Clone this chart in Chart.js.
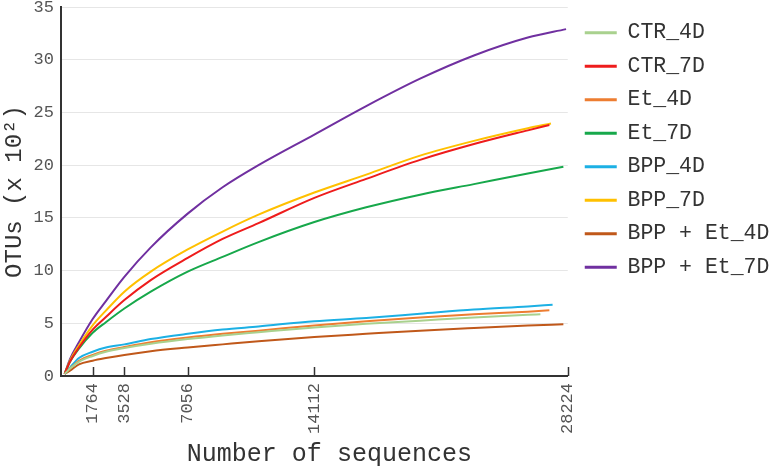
<!DOCTYPE html>
<html>
<head>
<meta charset="utf-8">
<script src="https://cdn.jsdelivr.net/npm/chart.js"></script>
<style>
  body { margin: 0; background: #fff; }
  #wrap { width: 777px; height: 469px; position: relative; }
</style>
</head>
<body>
<div id="wrap"><canvas id="chart-area"></canvas></div>
<script>
// sampling depths (number of sequences) shared by every curve
var seqs = [200, 500, 1000, 1764, 2500, 3528, 5000, 7056, 9000, 11000, 14112, 17000, 20000, 23000, 26000];
var xTicks = [1764, 3528, 7056, 14112, 28224];

var names = ['CTR_4D', 'CTR_7D', 'Et_4D', 'Et_7D', 'BPP_4D', 'BPP_7D', 'BPP + Et_4D', 'BPP + Et_7D'];
var colors = ['#a9d18e', '#ee1c1c', '#ed7d31', '#17a84b', '#1cb0e4', '#ffc000', '#c0581a', '#7030a0'];

// OTUs (x 10^2) at each depth, last value sits at the curve's own end depth
var ctr4d   = [0.2, 0.7, 1.35, 1.9, 2.3, 2.65, 3.05, 3.5, 3.85, 4.15, 4.6, 4.95, 5.25, 5.55, 5.8, 5.85];
var ctr7d   = [0.2, 1.35, 2.7, 4.4, 5.6, 7.2, 9.1, 11.2, 13.0, 14.5, 16.9, 18.7, 20.5, 22.0, 23.3, 23.8];
var et4d    = [0.2, 0.7, 1.45, 2.0, 2.4, 2.75, 3.2, 3.65, 4.0, 4.3, 4.8, 5.2, 5.55, 5.85, 6.1, 6.23];
var et7d    = [0.2, 1.35, 2.6, 4.1, 5.1, 6.4, 8.0, 9.9, 11.3, 12.7, 14.6, 16.0, 17.2, 18.2, 19.2, 19.85];
var bpp4d   = [0.2, 0.8, 1.7, 2.3, 2.7, 3.0, 3.5, 4.0, 4.4, 4.7, 5.2, 5.5, 5.9, 6.3, 6.6, 6.76];
var bpp7d   = [0.2, 1.45, 2.9, 4.8, 6.2, 8.0, 9.9, 12.0, 13.7, 15.3, 17.4, 19.1, 20.9, 22.3, 23.5, 23.95];
var bppEt4d = [0.2, 0.5, 1.1, 1.45, 1.7, 2.0, 2.35, 2.7, 3.0, 3.3, 3.7, 4.0, 4.3, 4.55, 4.78, 4.9];
var bppEt7d = [0.2, 1.6, 3.2, 5.4, 7.1, 9.4, 12.2, 15.4, 17.9, 20.0, 22.9, 25.6, 28.2, 30.4, 32.1, 32.9];
var endSeqs = [26700, 27200, 27200, 27980, 27380, 27290, 27980, 28130];

var allValues = [ctr4d, ctr7d, et4d, et7d, bpp4d, bpp7d, bppEt4d, bppEt7d];

var MONO = '"Liberation Mono", "Courier New", monospace';

function toPoints(vals, endSeq) {
	var pts = seqs.map(function (s, i) { return { x: s, y: vals[i] }; });
	pts.push({ x: endSeq, y: vals[vals.length - 1] });
	return pts;
}

var datasets = names.map(function (name, i) {
	return {
		label: name,
		data: toPoints(allValues[i], endSeqs[i]),
		borderColor: colors[i],
		backgroundColor: colors[i],
		borderWidth: 2,
		pointRadius: 0,
		fill: false,
		cubicInterpolationMode: 'monotone'
	};
});

// small tick marks pointing up into the plot, only at the labelled depths
var innerTicks = {
	id: 'innerTicks',
	afterDatasetsDraw: function (chart) {
		var ctx = chart.ctx, xs = chart.scales.x, bottom = chart.chartArea.bottom;
		ctx.save();
		ctx.strokeStyle = '#333';
		ctx.lineWidth = 1.5;
		xTicks.forEach(function (v) {
			var px = Math.round(xs.getPixelForValue(v)) + 0.5;
			ctx.beginPath();
			ctx.moveTo(px, bottom);
			ctx.lineTo(px, bottom - 9);
			ctx.stroke();
		});
		ctx.restore();
	}
};

// leave a gap between plot and legend without moving the legend items
var legendGap = {
	id: 'legendGap',
	beforeLayout: function (chart) {
		var lg = chart.legend;
		if (lg && !lg._gapDone) {
			var fit = lg.fit;
			lg.fit = function () { fit.call(this); this.width += 15; };
			lg._gapDone = true;
		}
	},
	afterLayout: function (chart) {
		chart.legend.left += 5;
		chart.legend.right += 5;
	}
};

var config = {
	type: 'line',
	data: { datasets: datasets },
	options: {
		responsive: true,
		maintainAspectRatio: false,
		animation: false,
		layout: { padding: 0 },
		plugins: {
			tooltip: { enabled: false },
			legend: {
				position: 'right',
				align: 'start',
				title: { display: true, text: '', font: { size: 10, lineHeight: 1 }, padding: 0 },
				labels: {
					usePointStyle: true,
					pointStyleWidth: 32,
					padding: 12,
					color: '#333',
					font: { family: MONO, size: 21.5 },
					generateLabels: function (chart) {
						return Chart.defaults.plugins.legend.labels.generateLabels(chart).map(function (l) {
							l.pointStyle = 'line';
							l.lineWidth = 3;
							return l;
						});
					}
				}
			}
		},
		scales: {
			x: {
				type: 'linear',
				min: 0,
				max: 28224,
				afterBuildTicks: function (scale) {
					scale.ticks = xTicks.map(function (v) { return { value: v }; });
				},
				afterFit: function (scale) { scale.height = 93; },
				grid: { color: 'rgba(0,0,0,0)', drawTicks: false },
				border: { display: true, color: '#333', width: 2 },
				ticks: {
					autoSkip: false,
					minRotation: 90,
					maxRotation: 90,
					padding: 7,
					color: '#555',
					font: { family: MONO, size: 17 },
					callback: function (v) { return String(v); }
				},
				title: {
					display: true,
					text: '  Number of sequences',
					color: '#333',
					font: { family: MONO, size: 25 },
					padding: { top: 6, bottom: 0 }
				}
			},
			y: {
				min: 0,
				max: 35,
				afterFit: function (scale) {
					scale.width = 61;
					scale.paddingTop = 7;
					scale.paddingBottom = 7;
				},
				grid: { color: '#e6e6e6', drawTicks: false },
				border: { display: true, color: '#333', width: 2 },
				ticks: {
					stepSize: 5,
					padding: 7,
					color: '#555',
					font: { family: MONO, size: 17 }
				},
				title: {
					display: true,
					text: 'OTUs (x 10\u00b2)',
					color: '#333',
					font: { family: MONO, size: 24 },
					padding: 0
				}
			}
		}
	},
	plugins: [innerTicks, legendGap]
};

window.onload = function () {
	var ctx = document.getElementById('chart-area').getContext('2d');
	window.myLine = new Chart(ctx, config);
};
</script>
</body>
</html>
